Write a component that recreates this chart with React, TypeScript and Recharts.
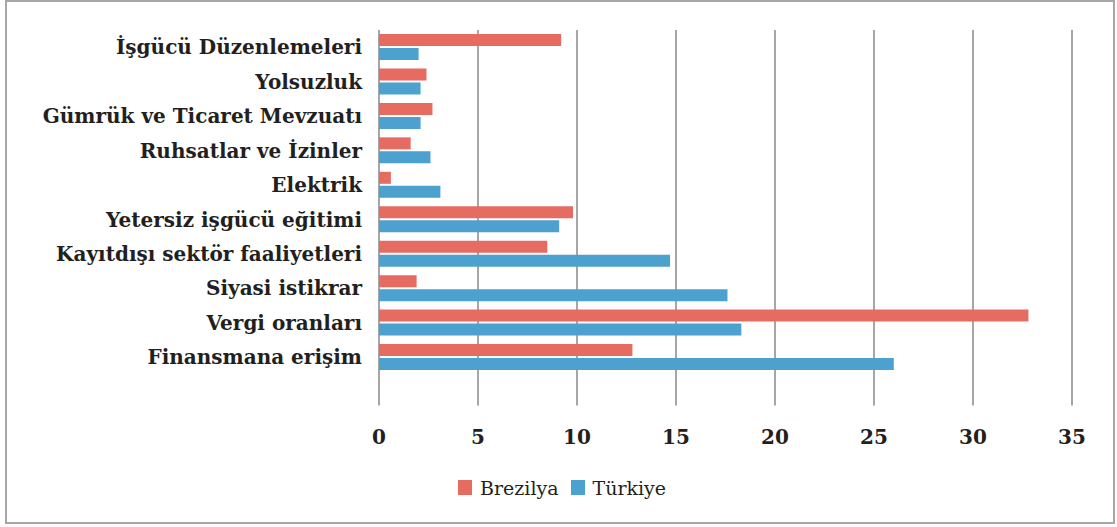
import { BarChart, Bar, XAxis, YAxis, CartesianGrid, Legend } from "recharts";

const categories = [
  "İşgücü Düzenlemeleri",
  "Yolsuzluk",
  "Gümrük ve Ticaret Mevzuatı",
  "Ruhsatlar ve İzinler",
  "Elektrik",
  "Yetersiz işgücü eğitimi",
  "Kayıtdışı sektör faaliyetleri",
  "Siyasi istikrar",
  "Vergi oranları",
  "Finansmana erişim",
];
const brezilya = [9.2, 2.4, 2.7, 1.6, 0.6, 9.8, 8.5, 1.9, 32.8, 12.8];
const turkiye = [2.0, 2.1, 2.1, 2.6, 3.1, 9.1, 14.7, 17.6, 18.3, 26.0];
const xTicks = [0, 5, 10, 15, 20, 25, 30, 35];

const RED = "#e66c61";
const BLUE = "#4ca1cf";
const FONT = "DejaVu Serif";

const data = categories.map((name, i) => ({
  name,
  Brezilya: brezilya[i],
  Türkiye: turkiye[i],
}));

function LegendBox() {
  const item = (color: string, label: string) => (
    <span style={{ display: "inline-flex", alignItems: "center", marginRight: 12 }}>
      <span style={{ display: "inline-block", width: 14, height: 15, background: color, marginRight: 8 }} />
      <span style={{ fontFamily: "'DejaVu Serif', serif" }}>{label}</span>
    </span>
  );
  return (
    <div
      style={{
        paddingLeft: 458,
        fontFamily: "'DejaVu Serif', serif",
        fontSize: 19,
        color: "#231f20",
        lineHeight: "24px",
        whiteSpace: "nowrap",
      }}
    >
      {item(RED, "Brezilya")}
      {item(BLUE, "Türkiye")}
    </div>
  );
}

export default function App() {
  return (
    <div style={{ position: "absolute", left: 0, top: 0, width: 1117, height: 527, background: "#fff" }}>
      <div
        style={{
          position: "absolute",
          left: 5,
          top: 0,
          width: 1106,
          height: 520,
          border: "2px solid #a6a6a6",
        }}
      />
      <div style={{ position: "absolute", left: 0, top: 0 }}>
        <BarChart
          width={1117}
          height={527}
          data={data}
          layout="vertical"
          margin={{ top: 30, right: 45, bottom: 27, left: 0 }}
          barSize={12}
          barGap={2}
        >
          <CartesianGrid horizontal={false} stroke="#a6a6a6" strokeWidth={2} />
          <XAxis
            type="number"
            domain={[0, 35]}
            ticks={xTicks}
            interval={0}
            axisLine={false}
            tickLine={false}
            tickSize={0}
            tickMargin={24}
            height={70}
            tick={{ fontFamily: FONT, fontSize: 20, fontWeight: 700, fill: "#231f20" }}
          />
          <YAxis
            type="category"
            dataKey="name"
            width={379}
            axisLine={false}
            tickLine={false}
            tickSize={0}
            tickMargin={17}
            interval={0}
            padding={{ top: 0, bottom: 31 }}
            tick={{ fontFamily: FONT, fontSize: 20, fontWeight: 700, fill: "#231f20" }}
          />
          <Legend verticalAlign="bottom" align="left" content={() => <LegendBox />} />
          <Bar dataKey="Brezilya" fill={RED} isAnimationActive={false} />
          <Bar dataKey="Türkiye" fill={BLUE} isAnimationActive={false} />
        </BarChart>
      </div>
    </div>
  );
}
